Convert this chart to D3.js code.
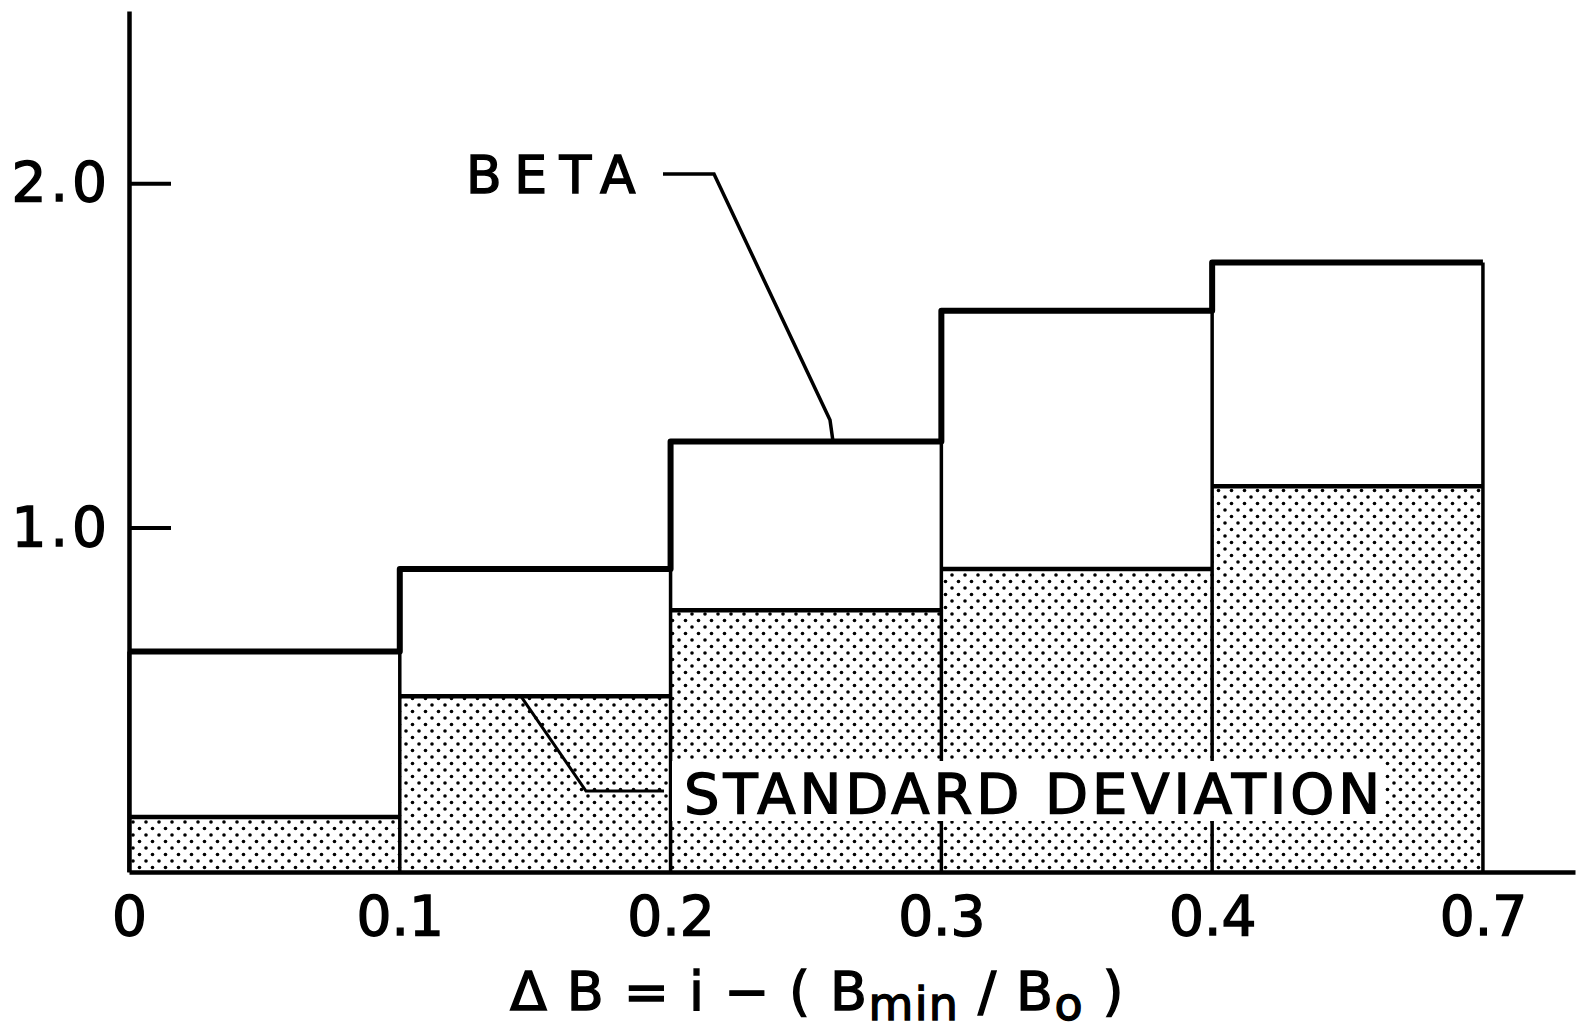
<!DOCTYPE html>
<html>
<head>
<meta charset="utf-8">
<script src="https://cdn.jsdelivr.net/npm/d3@7"></script>
<style>
  html, body { margin: 0; padding: 0; background: #fff; }
  svg { display: block; font-family: "DejaVu Sans", sans-serif; }
  .lbl, .tick text { fill: #000; stroke: #000; stroke-width: 1.4px; }
</style>
</head>
<body>
<svg width="1582" height="1032"></svg>
<script>
// ///////////////////////////////////////////////////////////// beta-hist //

// bin edges along the x axis (labels as printed)
const edgeLabels = ['0', '0.1', '0.2', '0.3', '0.4', '0.7'];
// mean beta per bin
const betaValues = [0.64, 0.88, 1.25, 1.63, 1.77];
// standard deviation per bin
const sdValues = [0.16, 0.51, 0.76, 0.88, 1.12];
const yTicks = [1.0, 2.0];

const svg = d3.select('svg');

// 0. scales (x is in "edge index" units, last edge = 5)
// ----------------------------------
const x = d3.scaleLinear().domain([0, 5.34]).range([129, 1575]);
const y = d3.scaleLinear().domain([0, 2.5]).range([872, 11]);

const bins = betaValues.map((b, i) => ({i, beta: b, sd: sdValues[i]}));

// stipple pattern for the std dev bars
const defs = svg.append('defs');
const pat = defs.append('pattern')
    .attr('id', 'stipple')
    .attr('patternUnits', 'userSpaceOnUse')
    .attr('width', 13)
    .attr('height', 13);
pat.append('circle').attr('cx', 3).attr('cy', 3).attr('r', 1.8).style('fill', '#000');
pat.append('circle').attr('cx', 9.5).attr('cy', 9.5).attr('r', 1.8).style('fill', '#000');

const plot = svg.append('g').classed('plot', true);

// 1. std dev stippled bars
// ----------------------------------
plot.selectAll('.sd-bar')
    .data(bins)
    .enter()
    .append('rect')
    .classed('sd-bar', true)
    .attr('x', (d) => x(d.i))
    .attr('width', (d) => x(d.i + 1) - x(d.i))
    .attr('y', (d) => y(d.sd))
    .attr('height', (d) => y(0) - y(d.sd))
    .style('fill', 'url(#stipple)');

plot.selectAll('.sd-top')
    .data(bins)
    .enter()
    .append('line')
    .classed('sd-top', true)
    .attr('x1', (d) => x(d.i))
    .attr('x2', (d) => x(d.i + 1))
    .attr('y1', (d) => y(d.sd))
    .attr('y2', (d) => y(d.sd))
    .style('stroke', '#000')
    .style('stroke-width', 4.5);

// 2. bin edges (thin) and beta step line (thick)
// ----------------------------------
const edges = edgeLabels.map((l, j) => {
  const left = j > 0 ? betaValues[j - 1] : betaValues[0];
  const right = j < betaValues.length ? betaValues[j] : betaValues[j - 1];
  return {j, top: Math.min(left, right)};
});

plot.selectAll('.edge')
    .data(edges)
    .enter()
    .append('line')
    .classed('edge', true)
    .attr('x1', (d) => x(d.j))
    .attr('x2', (d) => x(d.j))
    .attr('y1', y(0))
    .attr('y2', (d) => y(d.top))
    .style('stroke', '#000')
    .style('stroke-width', 3.5);

const stepPts = bins.map((d) => [d.i, d.beta]);
stepPts.push([bins.length, betaValues[betaValues.length - 1]]);

plot.append('path')
    .datum(stepPts)
    .attr('d', d3.line()
        .x((d) => x(d[0]))
        .y((d) => y(d[1]))
        .curve(d3.curveStepAfter))
    .style('fill', 'none')
    .style('stroke', '#000')
    .style('stroke-width', 6)
    .style('stroke-linejoin', 'round');

// 3. axes
// ----------------------------------
const xAxis = svg.append('g')
    .attr('transform', `translate(0,${y(0)})`)
    .call(d3.axisBottom(x)
        .tickValues(d3.range(edgeLabels.length))
        .tickFormat((i) => edgeLabels[i])
        .tickSize(0)
        .tickPadding(24));
xAxis.select('.domain').style('stroke-width', 4.5);
xAxis.selectAll('text')
    .style('font-size', '55px')
    .style('font-family', '"DejaVu Sans", sans-serif');

const yAxis = svg.append('g')
    .attr('transform', `translate(${x(0)},0)`)
    .call(d3.axisLeft(y)
        .tickValues(yTicks)
        .tickFormat(d3.format('.1f'))
        .tickSizeInner(-42)
        .tickSizeOuter(0)
        .tickPadding(18));
yAxis.select('.domain').style('stroke-width', 4.5);
yAxis.selectAll('.tick line').style('stroke-width', 4);
yAxis.selectAll('text')
    .style('font-size', '55px')
    .style('letter-spacing', '4px')
    .style('font-family', '"DejaVu Sans", sans-serif');

// helper: spread letters so text fills a given width
const fitText = (sel, width) => {
  const n = sel.text().length;
  const w = sel.node().getComputedTextLength();
  sel.style('letter-spacing', `${(width - w) / n}px`);
};

// 4. annotations
// ----------------------------------
const beta = svg.append('text')
    .classed('lbl', true)
    .attr('x', 466)
    .attr('y', 193)
    .style('font-size', '52px')
    .text('BETA');
fitText(beta, 182);

svg.append('path')
    .attr('d', d3.line()([[663, 174], [714, 174], [830, 420], [833, y(betaValues[2])]]))
    .style('fill', 'none')
    .style('stroke', '#000')
    .style('stroke-width', 3.5);

// white box behind the std dev label
svg.append('rect')
    .attr('x', 672)
    .attr('y', 761)
    .attr('width', 712)
    .attr('height', 60)
    .style('fill', '#fff');

const sdLbl = svg.append('text')
    .classed('lbl', true)
    .attr('x', 684)
    .attr('y', 813)
    .style('font-size', '56px')
    .text('STANDARD DEVIATION');
fitText(sdLbl, 700);

svg.append('path')
    .attr('d', d3.line()([[521, y(sdValues[1])], [586, 791], [664, 791]]))
    .style('fill', 'none')
    .style('stroke', '#000')
    .style('stroke-width', 3);

// x axis title
const title = svg.append('text')
    .classed('lbl', true)
    .attr('x', 510)
    .attr('y', 1010)
    .style('font-size', '54px');
title.append('tspan').text('Δ B = i − ( B');
title.append('tspan').attr('dy', 10).style('font-size', '46px').text('min');
title.append('tspan').attr('dy', -10).text(' / B');
title.append('tspan').attr('dy', 10).style('font-size', '46px').text('o');
title.append('tspan').attr('dy', -10).text(' )');
fitText(title, 615);
</script>
</body>
</html>
